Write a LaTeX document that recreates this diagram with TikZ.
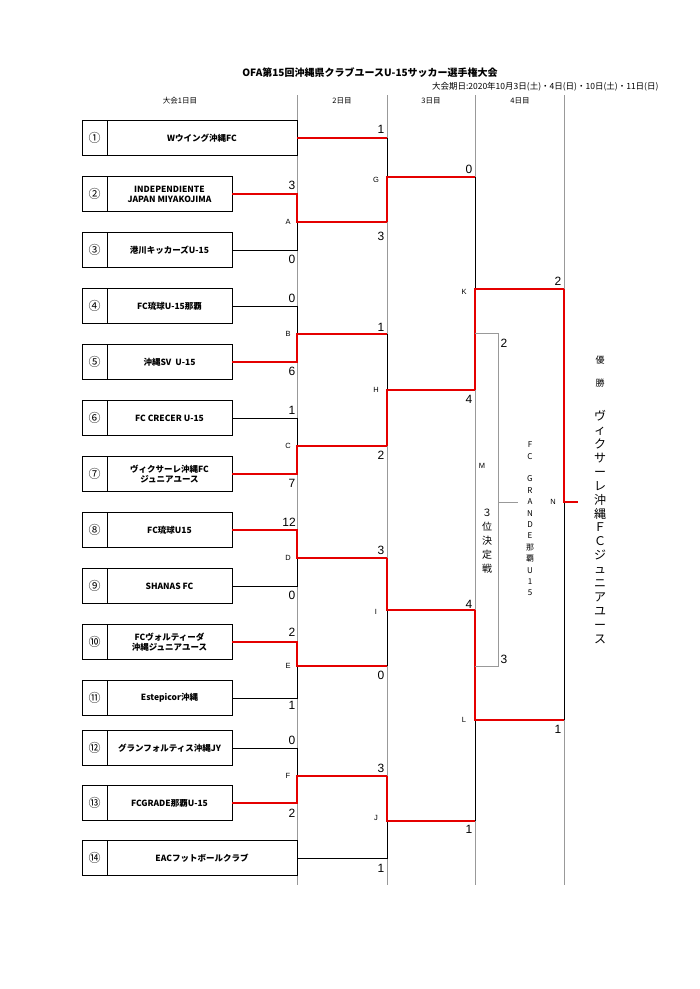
\documentclass[tikz,border=0pt]{standalone}
\usepackage{fontspec}
\setmainfont{Liberation Sans}
\newfontfamily\jp{Noto Sans CJK JP}
\begin{document}
\begin{tikzpicture}[x=1pt,y=-1pt,
  br/.style={line width=0.7pt,black},
  rd/.style={line width=2.2pt,red!90!black},
  gr/.style={line width=0.5pt,black!40},
  sc/.style={font=\fontsize{12}{12}\selectfont,inner sep=0pt},
  lb/.style={font=\fontsize{7.5}{7.5}\selectfont,inner sep=0pt},
  tm/.style={font=\jp\bfseries\fontsize{8.5}{10}\selectfont,align=center,inner sep=0pt},
  num/.style={font=\jp\fontsize{12}{12}\selectfont,inner sep=0pt}]
\useasboundingbox (0,0) rectangle (700,989);
\node[font=\jp\bfseries\fontsize{10}{10}\selectfont] (title) at (370,73) {OFA第15回沖縄県クラブユースU-15サッカー選手権大会};
\node[font=\jp\fontsize{8.5}{9}\selectfont,anchor=east] (date) at (662,87) {大会期日:2020年10月3日(土)・4日(日)・10日(土)・11日(日)};
\node[font=\jp\fontsize{7.5}{8}\selectfont] (h1) at (180,101) {大会1日目};
\node[font=\jp\fontsize{7.5}{8}\selectfont] (h2) at (342,101) {2日目};
\node[font=\jp\fontsize{7.5}{8}\selectfont] (h3) at (431,101) {3日目};
\node[font=\jp\fontsize{7.5}{8}\selectfont] (h4) at (520,101) {4日目};
\foreach \x in {297,387,475,564} \draw[gr] (\x,95) -- (\x,885);
\foreach \i/\y/\r/\t in {1/138/297/Wウイング沖縄FC,
 2/194/232/{INDEPENDIENTE\\JAPAN MIYAKOJIMA},
 3/250/232/港川キッカーズU-15,
 4/306/232/FC琉球U-15那覇,
 5/362/232/沖縄SV\ \ U-15,
 6/418/232/FC CRECER U-15,
 7/474/232/{ヴィクサーレ沖縄FC\\ジュニアユース},
 8/530/232/FC琉球U15,
 9/586/232/SHANAS FC,
 10/642/232/{FCヴォルティーダ\\沖縄ジュニアユース},
 11/698/232/Estepicor沖縄,
 12/748/232/グランフォルティス沖縄JY,
 13/803/232/FCGRADE那覇U-15,
 14/858/297/EACフットボールクラブ} {
  \draw[br] (82,\y-17.5) rectangle (\r,\y+17.5);
  \draw[br] (107,\y-17.5) -- (107,\y+17.5);
  \node[tm] (t\i) at ({(107+\r)/2},\y) {\t};
}
\node[num] at (94.5,138) {①};\node[num] at (94.5,194) {②};\node[num] at (94.5,250) {③};
\node[num] at (94.5,306) {④};\node[num] at (94.5,362) {⑤};\node[num] at (94.5,418) {⑥};
\node[num] at (94.5,474) {⑦};\node[num] at (94.5,530) {⑧};\node[num] at (94.5,586) {⑨};
\node[num] at (94.5,642) {⑩};\node[num] at (94.5,698) {⑪};\node[num] at (94.5,748) {⑫};
\node[num] at (94.5,803) {⑬};\node[num] at (94.5,858) {⑭};
% Round 1
\draw[br] (232,250) -- (297,250) -- (297,194);
\draw[rd] (232,194) -- (297,194) -- (297,222) -- (387,222);
\draw[br] (232,306) -- (297,306) -- (297,362);
\draw[rd] (232,362) -- (297,362) -- (297,334) -- (387,334);
\draw[br] (232,418) -- (297,418) -- (297,474);
\draw[rd] (232,474) -- (297,474) -- (297,446) -- (387,446);
\draw[br] (232,586) -- (297,586) -- (297,530);
\draw[rd] (232,530) -- (297,530) -- (297,558) -- (387,558);
\draw[br] (232,698) -- (297,698) -- (297,642);
\draw[rd] (232,642) -- (297,642) -- (297,666) -- (387,666);
\draw[br] (232,748) -- (297,748) -- (297,803);
\draw[rd] (232,803) -- (297,803) -- (297,776) -- (387,776);
% Round 2
\draw[br] (387,138) -- (387,222);
\draw[rd] (297,138) -- (387,138);
\draw[rd] (387,222) -- (387,177) -- (475,177);
\draw[br] (387,334) -- (387,446);
\draw[rd] (387,446) -- (387,390) -- (475,390);
\draw[br] (387,558) -- (387,666);
\draw[rd] (387,558) -- (387,610) -- (475,610);
\draw[br] (387,776) -- (387,858) -- (297,858);
\draw[rd] (387,776) -- (387,821) -- (475,821);
% Round 3
\draw[br] (475,177) -- (475,390);
\draw[rd] (475,390) -- (475,289) -- (564,289);
\draw[br] (475,610) -- (475,821);
\draw[rd] (475,610) -- (475,720) -- (564,720);
% Final
\draw[br] (564,289) -- (564,720);
\draw[rd] (564,289) -- (564,502) -- (578,502);
% third place
\draw[gr] (475,333) -- (498,333) -- (498,666) -- (475,666);
\draw[gr] (498,502) -- (518,502);
\foreach \x/\y/\s in {292/185/3,292/259/0,292/298/0,292/371/6,292/410/1,292/483/7,
 289/522/12,292/595/0,292/632/2,292/705/1,292/740/0,292/813/2,
 381/129/1,381/236/3,381/327/1,381/455/2,381/550/3,381/675/0,381/768/3,381/868/1,
 469/169/0,469/399/4,469/604/4,469/829/1,558/281/2,558/729/1,504/343/2,504/659/3}
 \node[sc] at (\x,\y) {\s};
\foreach \x/\y/\s in {288/222/A,288/334/B,288/446/C,288/558/D,288/666/E,288/776/F,
 376/180/G,376/390/H,376/612/I,376/818/J,464/292/K,464/720/L,482/466/M,553/502/N}
 \node[lb] at (\x,\y) {\s};
\node[font=\jp\fontsize{10}{14}\selectfont,align=center] (m3) at (487,541) {３\\位\\決\\定\\戦};
\node[font=\jp\fontsize{8}{11.4}\selectfont,align=center] (m3w) at (530,519) {F\\C\\\\G\\R\\A\\N\\D\\E\\那\\覇\\U\\1\\5};
\node[font=\jp\fontsize{9}{9}\selectfont] at (600,360) {優};
\node[font=\jp\fontsize{9}{9}\selectfont] at (600,383) {勝};
\node[font=\jp\fontsize{12}{13.9}\selectfont,align=center] (champ) at (600,527) {ヴ\\ィ\\ク\\サ\\ー\\レ\\沖\\縄\\Ｆ\\Ｃ\\ジ\\ュ\\ニ\\ア\\ユ\\ー\\ス};
\end{tikzpicture}
\end{document}
